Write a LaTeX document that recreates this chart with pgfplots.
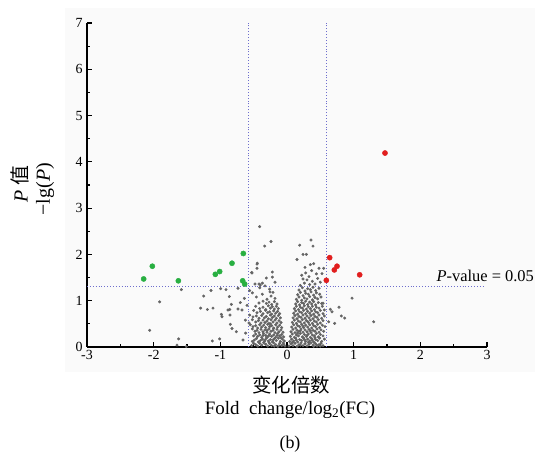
\documentclass[border=0pt]{standalone}
\usepackage{pgfplots}
\pgfplotsset{compat=1.18}
\usepackage{fontspec}
\setmainfont{Liberation Serif}
\newfontfamily\cjk{Noto Sans CJK SC}
\definecolor{gpt}{RGB}{100,100,100}
\definecolor{grn}{RGB}{40,175,65}
\definecolor{rd}{RGB}{225,30,30}
\definecolor{thr}{RGB}{110,110,205}
\begin{document}
\begin{tikzpicture}[x=1bp,y=1bp]
\useasboundingbox (0,0) rectangle (535,456);
\fill[black!2] (65,84) rectangle (535,448);
\begin{axis}[
  at={(87bp,109bp)}, anchor=south west,
  scale only axis, width=400bp, height=324bp,
  xmin=-3, xmax=3, ymin=0, ymax=7,
  axis x line*=bottom, axis y line*=left,
  axis line style={line width=1.6pt, black},
  xtick={-3,-2,-1,0,1,2,3}, ytick={0,1,2,3,4,5,6,7},
  minor x tick num=1, minor y tick num=1,
  tick align=inside,
  major tick length=5bp, minor tick length=3bp,
  every tick/.style={black, line width=1.2pt},
  /pgf/number format/assume math mode=true,
  ticklabel style={font=\fontsize{14}{14}\selectfont},
  yticklabel style={xshift=-1bp},
  clip=false,
]
\addplot[thr, dotted, line width=0.9pt] coordinates {(-0.585,0) (-0.585,7)};
\addplot[thr, dotted, line width=0.9pt] coordinates {(0.585,0) (0.585,7)};
\addplot[thr, dotted, line width=0.9pt] coordinates {(-3,1.301) (2.97,1.301)};
% gray (non-significant) points
\addplot[only marks, mark=*, mark size=1.3bp, color=gpt] coordinates {
(-0.03,0.02) (-0.05,0.06) (-0.08,0.03) (-0.11,0.08) (-0.14,0.01) (-0.17,0.05) (-0.2,0.09) (-0.23,0.03) (-0.26,0.07) (-0.29,0.02) (-0.32,0.06) (-0.35,0.09) (-0.38,0.04) (-0.41,0.08) (-0.44,0.02) (-0.47,0.05) (-0.5,0.08) (-0.53,0.03) (-0.06,0.09) (-0.12,0.04) (-0.19,0.02) (-0.27,0.1)
(-0.04,0.13) (-0.07,0.17) (-0.1,0.12) (-0.13,0.19) (-0.16,0.14) (-0.19,0.18) (-0.22,0.11) (-0.25,0.16) (-0.28,0.13) (-0.31,0.19) (-0.34,0.12) (-0.37,0.17) (-0.4,0.14) (-0.43,0.11) (-0.46,0.18) (-0.49,0.15) (-0.52,0.12) (-0.09,0.2) (-0.21,0.15) (-0.33,0.15)
(-0.05,0.22) (-0.08,0.27) (-0.11,0.24) (-0.14,0.29) (-0.17,0.21) (-0.2,0.26) (-0.23,0.23) (-0.26,0.28) (-0.29,0.22) (-0.32,0.25) (-0.35,0.29) (-0.38,0.21) (-0.41,0.26) (-0.44,0.23) (-0.47,0.28) (-0.5,0.24) (-0.15,0.25) (-0.27,0.25) (-0.36,0.25)
(-0.06,0.32) (-0.09,0.37) (-0.12,0.33) (-0.15,0.38) (-0.18,0.31) (-0.21,0.36) (-0.24,0.34) (-0.27,0.39) (-0.3,0.32) (-0.33,0.37) (-0.36,0.33) (-0.39,0.38) (-0.42,0.31) (-0.45,0.36) (-0.48,0.34) (-0.52,0.39) (-0.2,0.4) (-0.3,0.36)
(-0.08,0.42) (-0.11,0.47) (-0.14,0.43) (-0.17,0.48) (-0.2,0.41) (-0.23,0.46) (-0.26,0.44) (-0.29,0.49) (-0.32,0.42) (-0.35,0.47) (-0.38,0.43) (-0.41,0.48) (-0.44,0.41) (-0.47,0.46) (-0.51,0.44) (-0.55,0.48) (-0.25,0.5)
(-0.09,0.53) (-0.12,0.57) (-0.15,0.52) (-0.18,0.58) (-0.21,0.54) (-0.24,0.59) (-0.27,0.51) (-0.3,0.56) (-0.33,0.53) (-0.36,0.58) (-0.39,0.52) (-0.43,0.57) (-0.47,0.54) (-0.52,0.59) (-0.57,0.52)
(-0.1,0.63) (-0.13,0.68) (-0.16,0.62) (-0.19,0.67) (-0.22,0.64) (-0.25,0.69) (-0.28,0.61) (-0.31,0.66) (-0.34,0.63) (-0.38,0.68) (-0.42,0.62) (-0.46,0.67) (-0.51,0.65) (-0.56,0.69)
(-0.11,0.72) (-0.14,0.77) (-0.17,0.73) (-0.2,0.78) (-0.23,0.71) (-0.26,0.76) (-0.29,0.74) (-0.32,0.79) (-0.36,0.72) (-0.4,0.77) (-0.45,0.74) (-0.5,0.79)
(-0.13,0.83) (-0.16,0.88) (-0.19,0.82) (-0.22,0.87) (-0.25,0.84) (-0.28,0.89) (-0.32,0.81) (-0.36,0.86) (-0.41,0.83) (-0.47,0.88)
(-0.15,0.93) (-0.19,0.98) (-0.23,0.92) (-0.27,0.97) (-0.31,0.94) (-0.36,0.99) (-0.42,0.95)
(-0.18,1.05) (-0.24,1.1) (-0.3,1.03) (-0.37,1.14) (-0.46,1.08) (-0.21,1.18) (-0.52,1.17)
(-0.26,1.25) (-0.33,1.32) (-0.41,1.28) (-0.48,1.36) (-0.56,1.22) (-0.31,1.49) (-0.42,1.36) (-0.37,1.38) (-0.22,1.51) (-0.18,1.4) (-0.525,1.6) (-0.45,1.79)
(-0.41,2.6) (-0.24,2.28) (-0.335,2.18) (-0.445,1.81) (-0.45,1.7) (-0.53,1.61) (-0.22,1.62) (-0.255,1.19) (-0.4,1.34)
(-1.91,0.975) (-1.585,1.24) (-2.06,0.36) (-1.625,0.175) (-1.65,0.04) (-1.51,0.01) (-1.14,1.22) (-1.25,1.1) (-1.295,0.84) (-1.195,0.81) (-1.11,0.84) (-0.985,0.705) (-0.975,0.655) (-0.995,1.26) (-0.915,1.24) (-1.12,0.13) (-1.01,0.175) (-0.865,1.09) (-0.835,0.92) (-0.86,0.81) (-0.85,0.49) (-0.825,0.4) (-0.76,0.33) (-0.735,1.27) (-0.7,0.96) (-0.675,0.8) (-0.625,0.58) (-0.885,0.8) (-0.855,0.69) (-0.735,0.82) (-0.64,1.05) (-0.62,0.3) (-0.66,0.15) (-0.6,0.9)
(0.03,0.02) (0.06,0.07) (0.09,0.03) (0.12,0.08) (0.15,0.01) (0.18,0.05) (0.21,0.09) (0.24,0.03) (0.27,0.07) (0.3,0.02) (0.33,0.06) (0.36,0.09) (0.39,0.04) (0.42,0.08) (0.45,0.02) (0.48,0.05) (0.51,0.08) (0.54,0.03) (0.08,0.1) (0.2,0.04) (0.32,0.1) (0.44,0.05)
(0.04,0.12) (0.07,0.17) (0.1,0.13) (0.13,0.19) (0.16,0.11) (0.19,0.16) (0.22,0.14) (0.25,0.19) (0.28,0.12) (0.31,0.17) (0.34,0.13) (0.37,0.18) (0.4,0.11) (0.43,0.16) (0.46,0.14) (0.49,0.19) (0.52,0.12) (0.56,0.17) (0.14,0.15) (0.26,0.16) (0.38,0.15)
(0.05,0.23) (0.08,0.28) (0.11,0.21) (0.14,0.26) (0.17,0.24) (0.2,0.29) (0.23,0.22) (0.26,0.27) (0.29,0.23) (0.32,0.28) (0.35,0.21) (0.38,0.26) (0.41,0.24) (0.44,0.29) (0.47,0.22) (0.5,0.27) (0.54,0.24) (0.16,0.3) (0.3,0.25) (0.42,0.2)
(0.06,0.33) (0.09,0.38) (0.12,0.31) (0.15,0.36) (0.18,0.34) (0.21,0.39) (0.24,0.32) (0.27,0.37) (0.3,0.33) (0.33,0.38) (0.36,0.31) (0.39,0.36) (0.42,0.34) (0.45,0.39) (0.48,0.32) (0.51,0.37) (0.55,0.34) (0.2,0.35) (0.35,0.35)
(0.07,0.43) (0.1,0.48) (0.13,0.41) (0.16,0.46) (0.19,0.44) (0.22,0.49) (0.25,0.42) (0.28,0.47) (0.31,0.43) (0.34,0.48) (0.37,0.41) (0.4,0.46) (0.43,0.44) (0.46,0.49) (0.49,0.42) (0.53,0.47) (0.57,0.44) (0.24,0.45)
(0.08,0.53) (0.11,0.58) (0.14,0.51) (0.17,0.56) (0.2,0.54) (0.23,0.59) (0.26,0.52) (0.29,0.57) (0.32,0.53) (0.35,0.58) (0.38,0.51) (0.41,0.56) (0.44,0.54) (0.47,0.59) (0.5,0.52) (0.54,0.57) (0.31,0.55)
(0.09,0.63) (0.12,0.68) (0.15,0.61) (0.18,0.66) (0.21,0.64) (0.24,0.69) (0.27,0.62) (0.3,0.67) (0.33,0.63) (0.36,0.68) (0.39,0.61) (0.42,0.66) (0.45,0.64) (0.48,0.69) (0.52,0.62) (0.56,0.67)
(0.1,0.73) (0.13,0.78) (0.16,0.71) (0.19,0.76) (0.22,0.74) (0.25,0.79) (0.28,0.72) (0.31,0.77) (0.34,0.73) (0.37,0.78) (0.4,0.71) (0.43,0.76) (0.46,0.74) (0.5,0.79) (0.54,0.72)
(0.11,0.83) (0.14,0.88) (0.17,0.81) (0.2,0.86) (0.23,0.84) (0.26,0.89) (0.29,0.82) (0.32,0.87) (0.35,0.83) (0.38,0.88) (0.41,0.81) (0.44,0.86) (0.48,0.84) (0.53,0.88)
(0.13,0.93) (0.16,0.98) (0.19,0.91) (0.22,0.96) (0.25,0.94) (0.28,0.99) (0.31,0.92) (0.34,0.97) (0.37,0.93) (0.4,0.98) (0.43,0.91) (0.47,0.96) (0.52,0.94)
(0.14,1.03) (0.18,1.08) (0.22,1.01) (0.26,1.06) (0.3,1.04) (0.34,1.09) (0.38,1.02) (0.42,1.07) (0.46,1.04) (0.51,1.08)
(0.16,1.13) (0.2,1.18) (0.24,1.11) (0.28,1.16) (0.32,1.14) (0.36,1.19) (0.4,1.12) (0.44,1.17) (0.49,1.14)
(0.18,1.23) (0.23,1.28) (0.27,1.21) (0.31,1.26) (0.35,1.24) (0.39,1.29) (0.43,1.22) (0.48,1.27)
(0.2,1.33) (0.26,1.38) (0.3,1.45) (0.34,1.35) (0.38,1.42) (0.42,1.36) (0.46,1.48) (0.24,1.47) (0.5,1.4)
(0.22,1.55) (0.28,1.6) (0.33,1.52) (0.37,1.65) (0.44,1.58) (0.27,1.72) (0.35,1.78) (0.48,1.7)
(0.36,2.31) (0.19,2.2) (0.39,2.18) (0.24,2.0) (0.29,2.0) (0.15,1.89) (0.4,1.8) (0.525,1.585) (0.55,1.7)
(0.975,1.055) (1.3,0.545) (0.65,0.815) (0.675,0.76) (0.78,0.86) (0.815,0.67) (0.865,0.625) (0.715,0.51) (0.625,0.545) (0.54,0.945) (0.56,0.8) (0.5,0.02) (0.4,0.015)
};
% down-regulated (green)
\addplot[only marks, mark=*, mark size=2.6bp, color=grn] coordinates {
(-2.15,1.47) (-2.02,1.745) (-1.63,1.43) (-1.075,1.57) (-1.01,1.63) (-0.825,1.81) (-0.655,2.02) (-0.665,1.43) (-0.635,1.36)
};
% up-regulated (red)
\addplot[only marks, mark=*, mark size=2.6bp, color=rd] coordinates {
(0.64,1.93) (0.75,1.745) (0.71,1.665) (0.59,1.44) (1.09,1.56) (1.47,4.19)
};
\node[anchor=west, inner sep=0pt, font=\fontsize{16.5}{16.5}\selectfont] at (axis cs:2.24,1.53) {\textit{P}-value = 0.05};
\end{axis}
\node[rotate=90, anchor=east, inner sep=0pt, font=\fontsize{20}{20}\selectfont] at (20,291) {\textit{P} {\cjk 值}};
\node[rotate=90, anchor=east, inner sep=0pt, font=\fontsize{20}{20}\selectfont] at (45,293) {−lg(\textit{P})};
\node[font={\cjk\fontsize{19.5}{19.5}\selectfont}] at (291,71) {变化倍数};
\node[font=\fontsize{19}{19}\selectfont] at (290,46) {Fold\ \ change/log\textsubscript{2}(FC)};
\node[font=\fontsize{18}{18}\selectfont] at (290,12) {(b)};
\end{tikzpicture}
\end{document}
